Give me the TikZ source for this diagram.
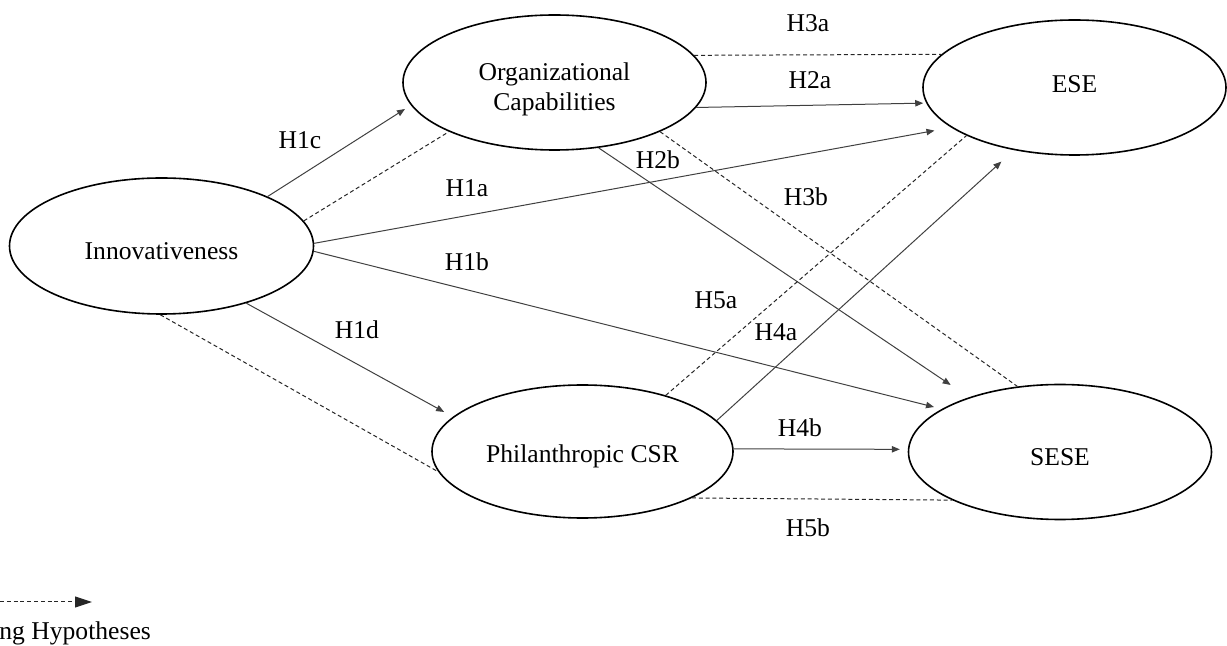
\documentclass[tikz,border=0pt]{standalone}
\usepackage{fontspec}
\setmainfont{Liberation Serif}
\usetikzlibrary{shapes.geometric, arrows.meta}

\tikzset{
	construct/.style = {draw, ellipse, line width=0.8pt, minimum width=151.5pt, minimum height=67.5pt, inner sep=0pt},
	ctext/.style 2 args = {label={[align=center, inner sep=0pt, yshift=#1]center:#2}},
	hyp/.style = {black!75, line width=0.5pt, -{Triangle[length=4pt, width=3.2pt]}},
	med/.style = {black!85, line width=0.5pt, dash pattern=on 2pt off 1.4pt},
}

\begin{document}
\begin{tikzpicture}[x=0.5pt, y=-0.5pt, font=\fontsize{12.8pt}{15pt}\selectfont]
		\useasboundingbox (0,0) rectangle (1227,646);
	
		% constructs
		\node[construct, minimum width=152pt, minimum height=68pt, ctext={-2.4pt}{Innovativeness}] (inn) at (161.5,246) {};
		\node[construct, ctext={-3.5pt}{Organizational\\Capabilities}] (org) at (554.5,82.5) {};
		\node[construct, ctext={1.5pt}{ESE}] (ese) at (1074.5,87.5) {};
		\node[construct, minimum width=150.5pt, minimum height=66.5pt, ctext={-2.2pt}{Philanthropic CSR}] (csr) at (582.5,451.5) {};
		\node[construct, ctext={-2.5pt}{SESE}] (sese) at (1060,452) {};
		
		% direct hypotheses
		\draw[hyp, shorten >=3.5pt] (inn.25) -- (org.189);
		\draw[hyp, shorten >=8.5pt] (inn.1) -- (ese.198);
		\draw[hyp, shorten >=4pt] (inn.-2) -- (sese.160);
		\draw[hyp, shorten >=5pt] (inn.-34) -- (csr.165);
		\draw[hyp, shorten >=1.5pt] (org.-10) -- (ese.186);
		\draw[hyp, shorten >=11pt] (org.-56) -- (sese.149);
		\draw[hyp, shorten >=8.5pt] (csr.13) -- (ese.226);
		\draw[hyp, shorten >=4pt] (csr.1) -- (sese.179);
		
		% mediating hypotheses
		\begin{scope}[med]
			\draw (inn.10) -- (org.205);
			\draw (inn.269) -- (csr.188);
			\draw (org.11) -- (ese.166);
			\draw (org.-25) -- (sese.123);
			\draw (csr.34) -- (ese.204);
			\draw (csr.-23) -- (sese.204);
		\end{scope}
		
		% labels
		\foreach \name/\x/\y in {H3a/808/23, H2a/810/80, H1c/300/140, H2b/658/160, H1a/467/188,
			H3b/806/197, H1b/467/262, H5a/716/300, H1d/357/330, H4a/776/332, H4b/800/428, H5b/808/528}
			\node[inner sep=0pt] (lbl-\name) at (\x,\y) {\name};
		
		% key
		\coordinate (keystart) at (0,602);
		\coordinate (keyend) at (92,602);
		\draw[med, -{Triangle[length=8.5pt, width=5.5pt]}] (keystart) -- (keyend);
		\node[anchor=west, inner sep=0pt] (keytext) at (-1,633) {ng Hypotheses};
	\end{tikzpicture}
\end{document}
